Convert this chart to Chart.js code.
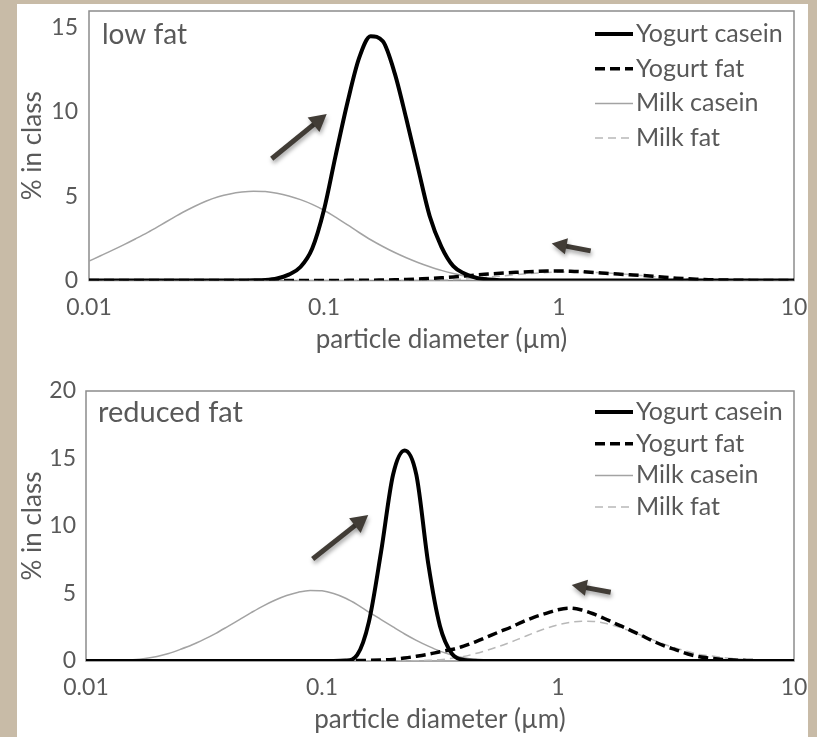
<!DOCTYPE html>
<html>
<head>
<meta charset="utf-8">
<script src="https://cdn.jsdelivr.net/npm/chart.js@4.4.1/dist/chart.umd.min.js"></script>
<style>
  body { margin: 0; width: 817px; height: 737px; overflow: hidden; background: #c8bba7; }
  #panel { position: absolute; left: 17px; top: 4px; width: 791px; height: 733px; background: #fff; }
  canvas { position: absolute; left: 0; }
</style>
</head>
<body>
<div id="panel">
  <canvas id="chart1" width="791" height="366" style="top:0"></canvas>
  <canvas id="chart2" width="791" height="367" style="top:366px"></canvas>
</div>
<script>
// particle diameter classes (µm)
const sizes = [0.01, 0.0112, 0.0126, 0.0141, 0.0158, 0.0178, 0.02, 0.0224, 0.0251, 0.0282,
  0.0316, 0.0355, 0.0398, 0.0447, 0.0501, 0.0562, 0.0631, 0.0708, 0.0794, 0.0891,
  0.1, 0.112, 0.126, 0.141, 0.158, 0.178, 0.2, 0.224, 0.251, 0.282,
  0.316, 0.355, 0.398, 0.447, 0.501, 0.562, 0.631, 0.708, 0.794, 0.891,
  1, 1.12, 1.26, 1.41, 1.58, 1.78, 2, 2.24, 2.51, 2.82,
  3.16, 3.55, 3.98, 4.47, 5.01, 5.62, 6.31, 7.08, 7.94, 8.91, 10];

const seriesNames = ['Yogurt casein', 'Yogurt fat', 'Milk casein', 'Milk fat'];
const xTickValues = [0.01, 0.1, 1, 10];

// low fat (% in class)
const lowYogurtCasein = [0, 0, 0, 0, 0, 0, 0, 0, 0, 0,
  0, 0, 0, 0, 0.01, 0.03, 0.12, 0.35, 0.8, 1.9,
  4.2, 7.4, 10.6, 13.2, 14.5, 14.2, 12.3, 9.6, 6.7, 3.8,
  2.0, 0.85, 0.4, 0.15, 0.06, 0.02, 0.01, 0, 0, 0,
  0, 0, 0, 0, 0, 0, 0, 0, 0, 0,
  0, 0, 0, 0, 0, 0, 0, 0, 0, 0, 0];
const lowYogurtFat = [0, 0, 0, 0, 0, 0, 0, 0, 0, 0,
  0, 0, 0, 0, 0, 0, 0, 0, 0, 0,
  0, 0, 0.01, 0.02, 0.02, 0.03, 0.04, 0.06, 0.09, 0.12,
  0.16, 0.21, 0.27, 0.33, 0.38, 0.43, 0.47, 0.51, 0.54, 0.56,
  0.56, 0.55, 0.52, 0.48, 0.43, 0.38, 0.34, 0.3, 0.25, 0.19,
  0.14, 0.1, 0.07, 0.04, 0.03, 0.02, 0.01, 0, 0, 0, 0];
const lowMilkCasein = [1.15, 1.47, 1.8, 2.13, 2.48, 2.86, 3.26, 3.66, 4.05, 4.41,
  4.72, 4.97, 5.14, 5.25, 5.3, 5.28, 5.18, 5.02, 4.8, 4.52,
  4.17, 3.76, 3.3, 2.85, 2.42, 2.02, 1.66, 1.35, 1.07, 0.82,
  0.6, 0.42, 0.27, 0.15, 0.08, 0.04, 0.02, 0.01, 0, 0,
  0, 0, 0, 0, 0, 0, 0, 0, 0, 0,
  0, 0, 0, 0, 0, 0, 0, 0, 0, 0, 0];
const lowMilkFat = [0, 0, 0, 0, 0, 0, 0, 0, 0, 0,
  0, 0, 0, 0, 0, 0, 0, 0, 0, 0,
  0, 0, 0, 0, 0, 0, 0, 0, 0, 0,
  0.02, 0.05, 0.09, 0.14, 0.2, 0.26, 0.32, 0.38, 0.43, 0.47,
  0.5, 0.51, 0.5, 0.48, 0.45, 0.4, 0.35, 0.29, 0.23, 0.18,
  0.13, 0.09, 0.06, 0.04, 0.02, 0.01, 0, 0, 0, 0, 0];

// reduced fat (% in class)
const redYogurtCasein = [0, 0, 0, 0, 0, 0, 0, 0, 0, 0,
  0, 0, 0, 0, 0, 0, 0, 0, 0, 0,
  0, 0, 0.03, 0.45, 2.9, 8.1, 13.8, 15.6, 13.8, 7.2,
  2.6, 0.55, 0.08, 0.01, 0, 0, 0, 0, 0, 0,
  0, 0, 0, 0, 0, 0, 0, 0, 0, 0,
  0, 0, 0, 0, 0, 0, 0, 0, 0, 0, 0];
const redYogurtFat = [0, 0, 0, 0, 0, 0, 0, 0, 0, 0,
  0, 0, 0, 0, 0, 0, 0, 0, 0, 0,
  0, 0, 0, 0.03, 0.05, 0.08, 0.12, 0.22, 0.35, 0.5,
  0.68, 0.85, 1.1, 1.42, 1.78, 2.15, 2.5, 2.9, 3.25, 3.53,
  3.8, 3.92, 3.78, 3.5, 3.13, 2.72, 2.33, 1.92, 1.5, 1.12,
  0.83, 0.52, 0.32, 0.2, 0.12, 0.07, 0.04, 0.02, 0.01, 0, 0];
const redMilkCasein = [0, 0.01, 0.03, 0.06, 0.1, 0.19, 0.34, 0.56, 0.86, 1.2,
  1.6, 2.05, 2.55, 3.07, 3.58, 4.07, 4.5, 4.85, 5.1, 5.23,
  5.2, 5.0, 4.65, 4.18, 3.62, 3.07, 2.52, 2.0, 1.53, 1.1,
  0.73, 0.44, 0.24, 0.11, 0.05, 0.02, 0, 0, 0, 0,
  0, 0, 0, 0, 0, 0, 0, 0, 0, 0,
  0, 0, 0, 0, 0, 0, 0, 0, 0, 0, 0];
const redMilkFat = [0, 0, 0, 0, 0, 0, 0, 0, 0, 0,
  0, 0, 0, 0, 0, 0, 0, 0, 0, 0,
  0, 0, 0, 0, 0, 0, 0, 0, 0.02, 0.05,
  0.1, 0.2, 0.33, 0.55, 0.8, 1.08, 1.4, 1.75, 2.1, 2.42,
  2.68, 2.85, 2.95, 2.93, 2.8, 2.55, 2.25, 1.92, 1.58, 1.24,
  0.95, 0.7, 0.48, 0.38, 0.26, 0.17, 0.11, 0.07, 0.04, 0.02, 0.01];

// arrows: [fromX, fromY, toX, toY] in data units
const lowArrows = [[0.0599, 7.23, 0.1027, 9.89], [1.364, 1.76, 0.931, 2.2]];
const redArrows = [[0.0913, 7.56, 0.157, 10.81], [1.672, 5.09, 1.143, 5.63]];

const TEXT = '#595959';
const FONT = 'Lato';

const lineStyles = [
  { borderColor: '#000000', borderWidth: 4, borderDash: [] },
  { borderColor: '#000000', borderWidth: 3.5, borderDash: [10, 5] },
  { borderColor: '#a3a3a3', borderWidth: 1.5, borderDash: [] },
  { borderColor: '#b8b8b8', borderWidth: 1.5, borderDash: [8, 5] }
];

function drawArrow(ctx, x1, y1, x2, y2, head) {
  const ang = Math.atan2(y2 - y1, x2 - x1);
  const c = Math.cos(ang), s = Math.sin(ang);
  const bx = x2 - head * c, by = y2 - head * s;
  const half = head * 0.55;
  ctx.save();
  ctx.shadowColor = 'rgba(0,0,0,0.35)';
  ctx.shadowBlur = 4;
  ctx.shadowOffsetX = 1;
  ctx.shadowOffsetY = 3;
  ctx.strokeStyle = '#413c36';
  ctx.fillStyle = '#413c36';
  ctx.lineWidth = 5;
  ctx.beginPath();
  ctx.moveTo(x1, y1);
  ctx.lineTo(bx + 2 * c, by + 2 * s);
  ctx.stroke();
  ctx.beginPath();
  ctx.moveTo(x2, y2);
  ctx.lineTo(bx + half * s, by - half * c);
  ctx.lineTo(bx - half * s, by + half * c);
  ctx.closePath();
  ctx.fill();
  ctx.restore();
}

const decor = {
  id: 'decor',
  beforeDatasetsDraw(chart) {
    const { ctx, chartArea: a } = chart;
    ctx.save();
    ctx.strokeStyle = '#8c8c8c';
    ctx.lineWidth = 1.5;
    ctx.strokeRect(a.left, a.top, a.right - a.left, a.bottom - a.top);
    ctx.restore();
  },
  afterDatasetsDraw(chart, args, opts) {
    const { ctx, chartArea: a, scales: { x, y } } = chart;
    ctx.save();
    ctx.fillStyle = TEXT;
    ctx.textBaseline = 'middle';
    ctx.font = opts.labelSize + 'px ' + FONT;
    ctx.fillText(opts.label, a.left + opts.labelDx, a.top + opts.labelDy);

    // legend inside the plot, top right
    ctx.font = '25px ' + FONT;
    chart.data.datasets.forEach((ds, i) => {
      const ly = a.top + opts.legendTop + i * opts.legendGap;
      ctx.beginPath();
      ctx.setLineDash(ds.borderDash);
      ctx.lineWidth = ds.borderWidth;
      ctx.strokeStyle = ds.borderColor;
      ctx.moveTo(a.right - 199, ly);
      ctx.lineTo(a.right - 161, ly);
      ctx.stroke();
      ctx.setLineDash([]);
      ctx.fillText(ds.label, a.right - 158, ly);
    });
    ctx.restore();

    opts.arrows.forEach((ar, i) => {
      drawArrow(ctx, x.getPixelForValue(ar[0]), y.getPixelForValue(ar[1]),
        x.getPixelForValue(ar[2]), y.getPixelForValue(ar[3]), i === 0 ? 17 : 15);
    });
  }
};

function makeChart(id, series, yMax, label, arrows, lay) {
  return new Chart(document.getElementById(id), {
    type: 'line',
    data: {
      datasets: series.map((vals, i) => ({
        label: seriesNames[i],
        data: sizes.map((d, k) => ({ x: d, y: vals[k] })),
        borderColor: lineStyles[i].borderColor,
        borderWidth: lineStyles[i].borderWidth,
        borderDash: lineStyles[i].borderDash,
        fill: false
      }))
    },
    options: {
      responsive: false,
      animation: false,
      layout: { padding: { top: lay.top, right: 14, left: 0, bottom: 0 } },
      elements: {
        point: { radius: 0 },
        line: { cubicInterpolationMode: 'monotone', borderCapStyle: 'butt' }
      },
      plugins: {
        legend: { display: false },
        tooltip: { enabled: false },
        decor: { label: label, labelSize: lay.labelSize, labelDx: lay.labelDx, labelDy: lay.labelDy,
                 arrows: arrows, legendTop: lay.legendTop, legendGap: lay.legendGap }
      },
      scales: {
        x: {
          type: 'logarithmic',
          min: 0.01,
          max: 10,
          grid: { display: false, drawTicks: false },
          border: { display: false },
          afterBuildTicks: s => { s.ticks = xTickValues.map(v => ({ value: v })); },
          afterFit: s => { s.height = lay.xh; s.paddingLeft = 0; s.paddingRight = 0; },
          ticks: {
            color: TEXT, font: { family: FONT, size: 23 }, padding: 13,
            maxRotation: 0, autoSkip: false,
            callback: v => String(v)
          },
          title: {
            display: true, text: 'particle diameter (µm)', color: TEXT,
            font: { family: FONT, size: 26 }, padding: { top: 0, bottom: lay.titleB }
          }
        },
        y: {
          min: 0,
          max: yMax,
          grid: { display: false, drawTicks: false },
          border: { display: false },
          afterFit: s => { s.width = lay.yw; s.paddingTop = 0; s.paddingBottom = 0; },
          ticks: {
            stepSize: 5, includeBounds: false, color: TEXT,
            font: { family: FONT, size: 23 }, padding: lay.yPad
          },
          title: {
            display: true, text: '% in class', color: TEXT,
            font: { family: FONT, size: 26 }, padding: { top: 0, bottom: 0 }
          }
        }
      }
    },
    plugins: [decor]
  });
}

makeChart('chart1', [lowYogurtCasein, lowYogurtFat, lowMilkCasein, lowMilkFat], 16, 'low fat', lowArrows,
  { top: 7, xh: 89.5, yw: 72, yPad: 11, titleB: 14.8, labelSize: 28, labelDx: 13, labelDy: 24, legendTop: 23, legendGap: 34.7 });
makeChart('chart2', [redYogurtCasein, redYogurtFat, redMilkCasein, redMilkFat], 20, 'reduced fat', redArrows,
  { top: 21, xh: 76, yw: 69, yPad: 10, titleB: 1.8, labelSize: 29, labelDx: 12, labelDy: 22, legendTop: 21, legendGap: 31.7 });
</script>
</body>
</html>
